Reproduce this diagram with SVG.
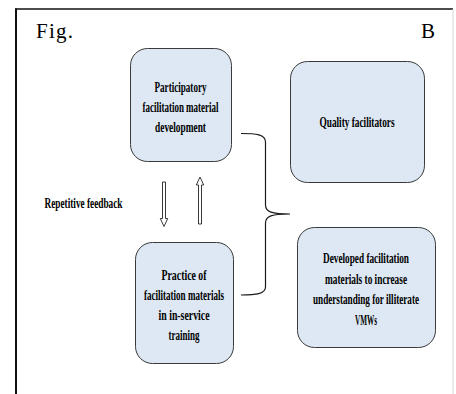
<svg xmlns="http://www.w3.org/2000/svg" width="456" height="394" viewBox="0 0 456 394">
<style>
.box{fill:#dde8f4;stroke:#3a3a3a;stroke-width:1}
.t{font-family:"Liberation Serif","Times New Roman",serif;font-size:15.5px;font-weight:bold;fill:#000;text-anchor:middle}
.big{font-family:"Liberation Serif","Times New Roman",serif;font-size:21px;fill:#000}
.con{fill:none;stroke:#1a1a1a;stroke-width:1.2}
.arr{fill:#fff;stroke:#222;stroke-width:0.9}
</style>
<rect width="456" height="394" fill="#fff"/>
<g id="frame">
<line x1="15" y1="9" x2="453" y2="9" stroke="#111" stroke-width="1.3"/>
<line x1="16" y1="8.5" x2="16" y2="394" stroke="#111" stroke-width="2"/>
<line x1="453" y1="9" x2="453" y2="394" stroke="#d6d6d6" stroke-width="1"/>
</g>
<text class="big" x="36" y="38" textLength="37" lengthAdjust="spacing">Fig.</text>
<text class="big" x="435" y="38" text-anchor="end">B</text>
<g id="n1">
<rect class="box" x="130.5" y="48.5" width="101" height="113" rx="17"/>
<text class="t" transform="translate(180.5 92) scale(0.58 1)" textLength="89.7" lengthAdjust="spacingAndGlyphs">Participatory</text>
<text class="t" transform="translate(180.5 112) scale(0.58 1)" textLength="131" lengthAdjust="spacingAndGlyphs">facilitation material</text>
<text class="t" transform="translate(180.5 132) scale(0.58 1)" textLength="87.9" lengthAdjust="spacingAndGlyphs">development</text>
</g>
<g id="n2">
<rect class="box" x="290.5" y="61.5" width="134" height="121" rx="17"/>
<text class="t" transform="translate(357 127) scale(0.58 1)" textLength="129.3" lengthAdjust="spacingAndGlyphs">Quality facilitators</text>
</g>
<g id="n3">
<rect class="box" x="135.5" y="242.5" width="98" height="121" rx="17"/>
<text class="t" transform="translate(184 280) scale(0.58 1)" textLength="77.6" lengthAdjust="spacingAndGlyphs">Practice of</text>
<text class="t" transform="translate(184 300) scale(0.58 1)" textLength="137.9" lengthAdjust="spacingAndGlyphs">facilitation materials</text>
<text class="t" transform="translate(184 320) scale(0.58 1)" textLength="87.9" lengthAdjust="spacingAndGlyphs">in in-service</text>
<text class="t" transform="translate(184 340) scale(0.58 1)" textLength="53.4" lengthAdjust="spacingAndGlyphs">training</text>
</g>
<g id="n4">
<rect class="box" x="297.5" y="227.5" width="138" height="120" rx="17"/>
<text class="t" transform="translate(366 263) scale(0.58 1)" textLength="148.3" lengthAdjust="spacingAndGlyphs">Developed facilitation</text>
<text class="t" transform="translate(366 284) scale(0.58 1)" textLength="141.4" lengthAdjust="spacingAndGlyphs">materials to increase</text>
<text class="t" transform="translate(366 304) scale(0.58 1)" textLength="182.8" lengthAdjust="spacingAndGlyphs">understanding for illiterate</text>
<text class="t" transform="translate(366 325) scale(0.58 1)" textLength="37.9" lengthAdjust="spacingAndGlyphs">VMWs</text>
</g>
<g id="label">
<text class="t" transform="translate(83.5 208) scale(0.58 1)" textLength="134.5" lengthAdjust="spacingAndGlyphs">Repetitive feedback</text>
</g>
<g id="connectors">
<path class="con" d="M241,133.5 C256,133.5 265.5,134.5 265.5,142 L265.5,205 C265.5,212 272,214 290,214 C272,214 265.5,216 265.5,223 L265.5,287 C265.5,294 256,295 241,295"/>
<path class="arr" d="M162.5,182 L165.5,182 L165.5,218.5 L167.7,218.5 L164,226.5 L160.3,218.5 L162.5,218.5 Z"/>
<path class="arr" d="M198.5,224 L201.5,224 L201.5,185 L203.7,185 L200,177 L196.3,185 L198.5,185 Z"/>
</g>
</svg>
